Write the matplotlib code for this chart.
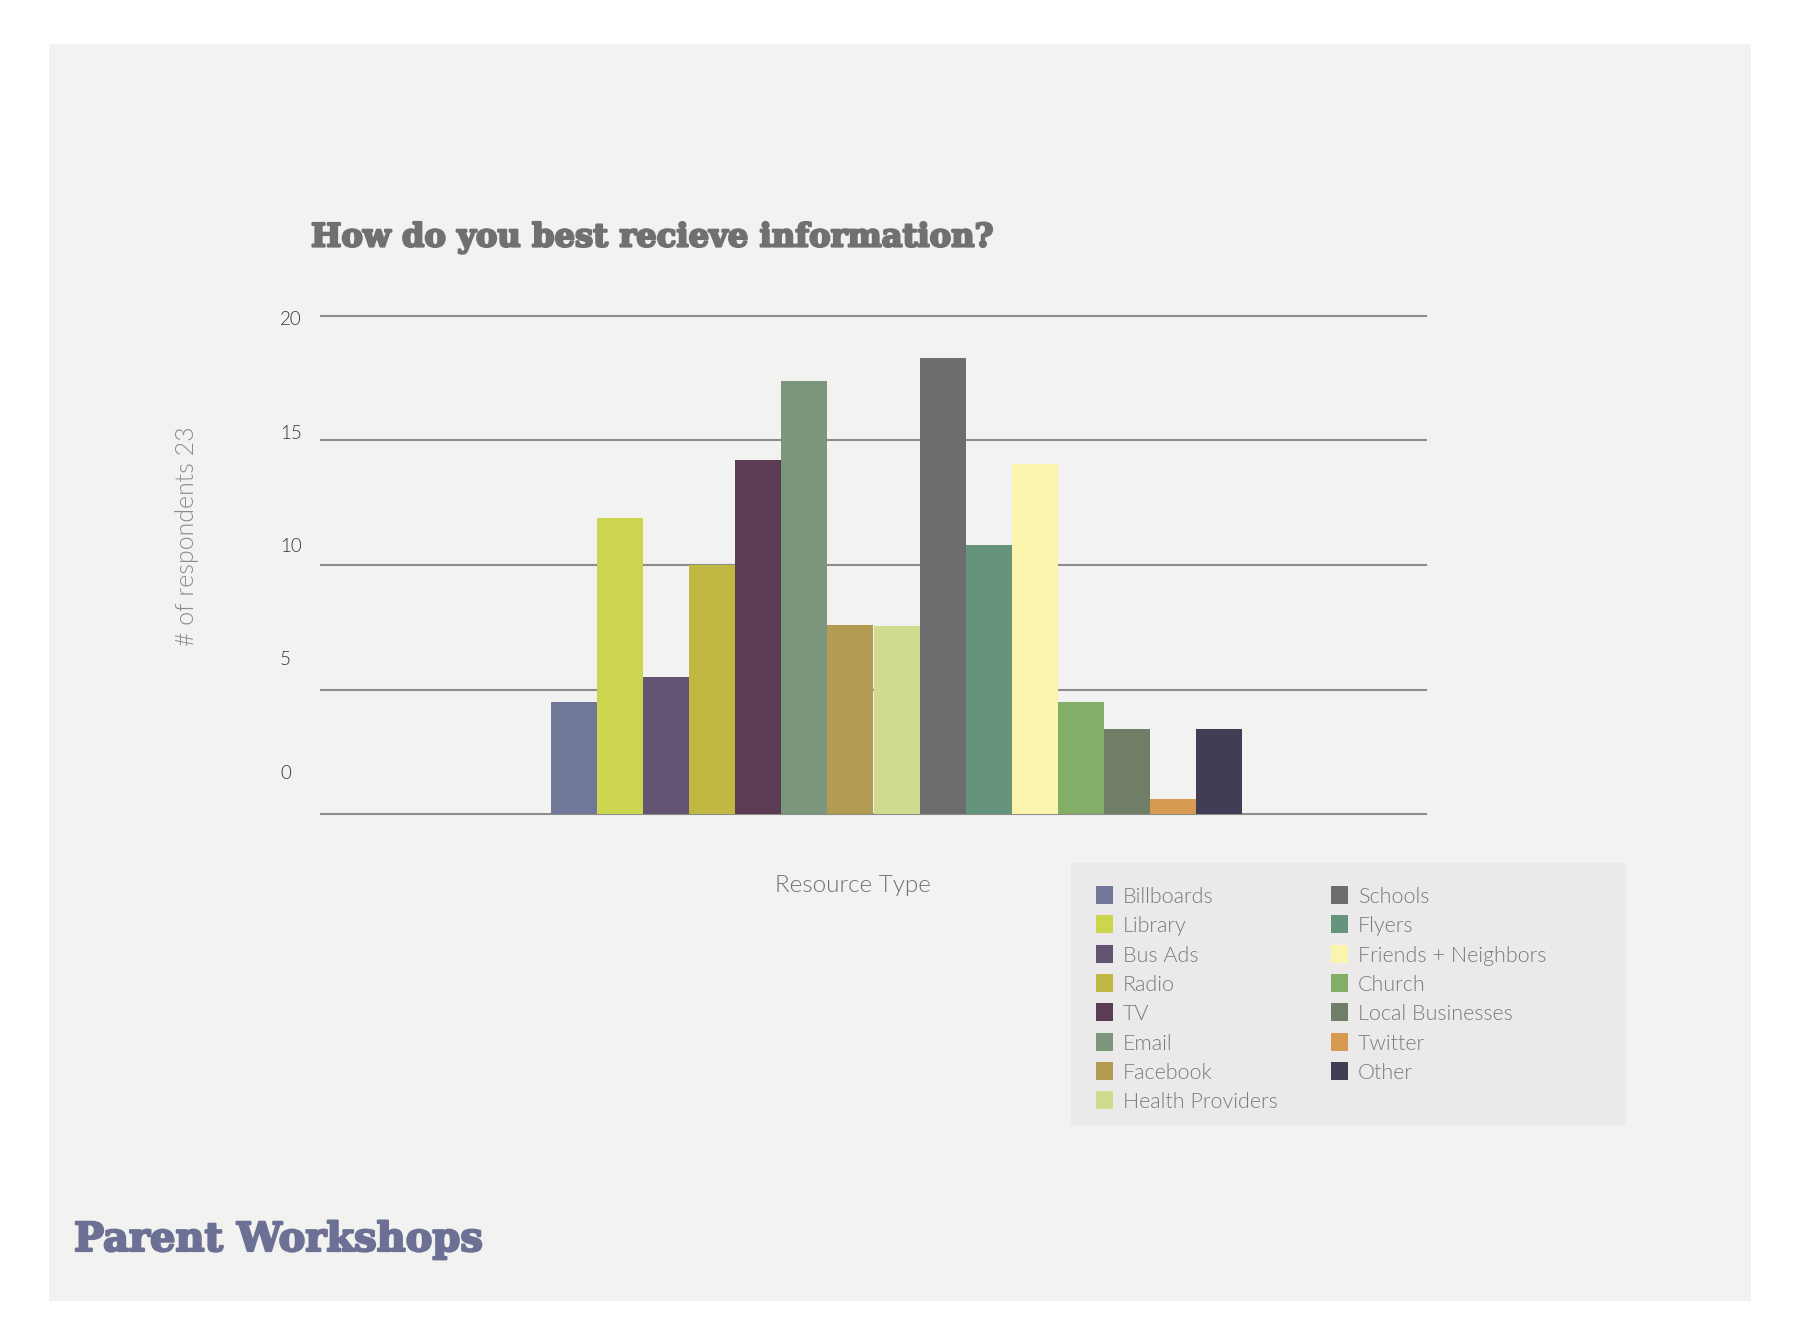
import matplotlib
matplotlib.use("Agg")
import matplotlib.pyplot as plt
import matplotlib.patheffects as pe
from matplotlib.patches import Rectangle

categories = ["Billboards", "Library", "Bus Ads", "Radio", "TV", "Email",
              "Facebook", "Health Providers", "Schools", "Flyers",
              "Friends + Neighbors", "Church", "Local Businesses", "Twitter",
              "Other"]
values = [4.5, 11.9, 5.5, 10.0, 14.2, 17.4, 7.6, 7.55, 18.3, 10.8, 14.05,
          4.5, 3.4, 0.6, 3.4]
colors = ["#717799", "#cbd54e", "#635473", "#c1b843", "#5c3b55", "#7b967c",
          "#b39b52", "#cfdc8e", "#6c6d6e", "#65937c", "#faf4ad", "#83ae67",
          "#717e67", "#d69b50", "#423c54"]
yticks = [0, 5, 10, 15, 20]

W, H = 1800, 1344
fig = plt.figure(figsize=(18, 13.44), dpi=100, facecolor="white")

def fx(px):
    return px / W

def fy(py):
    return 1 - py / H

# grey panel behind everything
fig.patches.append(Rectangle((fx(49), fy(1301)), fx(1751) - fx(49), fy(44) - fy(1301),
                             transform=fig.transFigure, facecolor="#f2f2f0",
                             edgecolor="none", zorder=-5))

ax = fig.add_axes([fx(321), fy(814), fx(1426) - fx(321), fy(316) - fy(814)])
ax.set_zorder(3)
ax.set_facecolor("none")
ax.set_xlim(0, 24)
ax.set_ylim(0, 20)

for v in yticks:
    ax.axhline(v, color="#8c8c8c", lw=1.5, zorder=1, clip_on=False)

x = [5 + i for i in range(len(values))]
ax.bar(x, values, width=1, align="edge", color=colors, zorder=2)

light = dict(fontfamily="Lato", fontweight=300)

for s in ax.spines.values():
    s.set_visible(False)
ax.set_xticks([])
# tick labels sit a bit off their gridlines, as in the original
ax.set_yticks([v + 1.8 * (1 - v / 20) - 0.1 for v in yticks])
ax.set_yticklabels([str(v) for v in yticks], fontsize=13.5, color="#333333",
                   ha="left", **light)
ax.tick_params(axis="y", length=0, pad=29.5)

fig.text(fx(187), fy(536), "# of respondents 23", rotation=90, ha="center",
         va="center", fontsize=18, color="#8c8c8c", **light)
fig.text(fx(853), fy(886), "Resource Type", ha="center", va="center",
         fontsize=17.5, color="#707070", **light)

heavy = lambda c: [pe.withStroke(linewidth=1.6, foreground=c)]
fig.text(fx(311), fy(238), "How do you best recieve information?", ha="left",
         va="center", fontfamily="DejaVu Serif", fontweight="bold",
         fontsize=23.2, color="#707070", path_effects=heavy("#707070"))
fig.text(fx(74), fy(1240), "Parent Workshops", ha="left", va="center",
         fontfamily="DejaVu Serif", fontweight="bold", fontsize=28.8,
         color="#6b7094", path_effects=heavy("#6b7094"))

# legend box
fig.patches.append(Rectangle((fx(1071), fy(1126)), fx(1626) - fx(1071),
                             fy(863) - fy(1126), transform=fig.transFigure,
                             facecolor="#ebe9e9", edgecolor="none", zorder=1))
for i, (name, c) in enumerate(zip(categories, colors)):
    col, row = divmod(i, 8)
    mx = 1096 + col * 235
    cy = 895 + row * 29.3
    fig.patches.append(Rectangle((fx(mx), fy(cy + 9)), fx(17), 18 / H,
                                 transform=fig.transFigure, facecolor=c,
                                 edgecolor="none", zorder=2))
    fig.text(fx(mx + 27), fy(cy + 2), name, ha="left", va="center",
             fontsize=15.5, color="#7a7a7a", zorder=3, **light)

fig.savefig("out.png", dpi=100, facecolor="white")
